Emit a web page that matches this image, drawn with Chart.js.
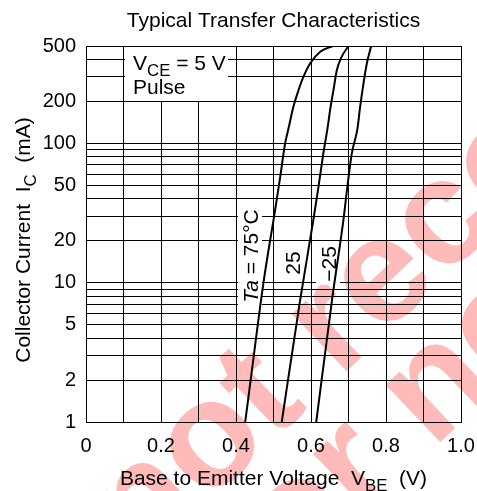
<!DOCTYPE html>
<html>
<head>
<meta charset="utf-8">
<script src="https://cdn.jsdelivr.net/npm/chart.js@4.4.1/dist/chart.umd.min.js"></script>
<style>
  html, body { margin: 0; padding: 0; background: #fff; }
  #wrap { width: 477px; height: 491px; }
</style>
</head>
<body>
<div id="wrap"><canvas id="myChart" width="477" height="491"></canvas></div>
<script>
// curve data (VBE in V, IC in mA)
var vbe75 = [0.4245, 0.438, 0.473, 0.505, 0.518, 0.531, 0.540, 0.553, 0.567, 0.580, 0.598, 0.6245, 0.658];
var ic75  = [1, 1.9, 9.9, 34.2, 57.7, 100, 128, 183, 242, 301, 376, 455, 500];

var vbe25 = [0.522, 0.571, 0.607, 0.620, 0.633, 0.644, 0.651, 0.660, 0.669, 0.682, 0.700];
var ic25  = [1, 7.5, 29, 48.9, 85, 128, 174, 242, 336, 419, 500];

var vbeM25 = [0.614, 0.656, 0.687, 0.697, 0.709, 0.724, 0.731, 0.740, 0.749, 0.7605];
var icM25  = [1, 7.5, 29, 48.9, 85, 128, 183, 270, 376, 500];

var xTickLabels = [0, 0.2, 0.4, 0.6, 0.8, 1.0];
var yGrid = [1, 2, 3, 4, 5, 6, 7, 8, 9, 10, 20, 30, 40, 50, 60, 70, 80, 90, 100, 200, 300, 400, 500];
var yTickLabels = [1, 2, 5, 10, 20, 50, 100, 200, 500];

var FONT = "'Liberation Sans', Arial, sans-serif";
Chart.defaults.font.family = FONT;
Chart.defaults.color = '#000';

function pts(xs, ys) {
  return xs.map(function(x, i) { return { x: x, y: ys[i] }; });
}

// draw a run of text pieces, some of them subscripts
function runWidth(ctx, parts, size) {
  var w = 0;
  parts.forEach(function(p) {
    ctx.font = (p.style || '') + ' ' + (p.sub ? size * 0.8 : size) + 'px ' + FONT;
    w += ctx.measureText(p.t).width;
  });
  return w;
}
function drawRun(ctx, parts, x, y, size) {
  parts.forEach(function(p) {
    ctx.font = (p.style || '') + ' ' + (p.sub ? size * 0.8 : size) + 'px ' + FONT;
    ctx.fillText(p.t, x, p.sub ? y + size * 0.3 : y);
    x += ctx.measureText(p.t).width;
  });
}

var watermark = {
  id: 'watermark',
  beforeDraw: function(chart) {
    var ctx = chart.ctx;
    ctx.save();
    ctx.fillStyle = 'rgba(255,0,0,0.27)';
    ctx.font = 'bold 150px ' + FONT;
    ctx.textBaseline = 'alphabetic';
    ctx.textAlign = 'left';
    ctx.translate(140, 568);
    ctx.rotate(-43.6 * Math.PI / 180);
    ctx.fillText('not recommended', 0, 0);
    ctx.fillText('for new design', 52, 116);
    ctx.restore();
  }
};

// label boxes sit over the grid but under the curves
var labels = {
  id: 'labels',
  beforeDatasetsDraw: function(chart) {
    var ctx = chart.ctx;
    var area = chart.chartArea;
    ctx.save();
    ctx.fillStyle = '#000';
    ctx.textBaseline = 'alphabetic';
    ctx.textAlign = 'left';

    // title
    var t = [{ t: 'Typical Transfer Characteristics' }];
    var tw = runWidth(ctx, t, 21);
    drawRun(ctx, t, (area.left + area.right) / 2 - tw / 2, 27, 21);

    // VCE box
    ctx.fillStyle = '#fff';
    ctx.fillRect(125, area.top + 1, 103, 54);
    ctx.fillStyle = '#000';
    drawRun(ctx, [{ t: 'V' }, { t: 'CE', sub: true }, { t: ' = 5 V' }], 133, 70, 21);
    drawRun(ctx, [{ t: 'Pulse' }], 133, 94, 21);

    // curve labels, rotated
    var rot = [
      { parts: [{ t: 'Ta', style: 'italic' }, { t: ' = 75°C' }], x: 250, y: 256 },
      { parts: [{ t: '25' }], x: 292, y: 263 },
      { parts: [{ t: '\u221225' }], x: 328, y: 264 }
    ];
    rot.forEach(function(r) {
      ctx.save();
      ctx.translate(r.x, r.y);
      ctx.rotate(-Math.PI / 2);
      var w = runWidth(ctx, r.parts, 21);
      ctx.fillStyle = '#fff';
      ctx.fillRect(-w / 2 - 3, -12, w + 6, 24);
      ctx.fillStyle = '#000';
      drawRun(ctx, r.parts, -w / 2, 8, 21);
      ctx.restore();
    });

    // x axis title
    var xt = [{ t: 'Base to Emitter Voltage  V' }, { t: 'BE', sub: true }, { t: '  (V)' }];
    var xw = runWidth(ctx, xt, 21);
    drawRun(ctx, xt, (area.left + area.right) / 2 - xw / 2, 485, 21);

    // y axis title
    ctx.save();
    ctx.translate(30, 240);
    ctx.rotate(-Math.PI / 2);
    var yt = [{ t: 'Collector Current  I' }, { t: 'C', sub: true }, { t: '  (mA)' }];
    var yw = runWidth(ctx, yt, 21);
    drawRun(ctx, yt, -yw / 2, 0, 21);
    ctx.restore();

    ctx.restore();
  }
};

var lineStyle = {
  borderColor: '#000',
  borderWidth: 2,
  pointRadius: 0,
  fill: false,
  cubicInterpolationMode: 'monotone'
};

var chartdata = {
  datasets: [
    Object.assign({ label: 'Ta = 75°C', data: pts(vbe75, ic75) }, lineStyle),
    Object.assign({ label: '25', data: pts(vbe25, ic25) }, lineStyle),
    Object.assign({ label: '-25', data: pts(vbeM25, icM25) }, lineStyle)
  ]
};

var options = {
  responsive: false,
  animation: false,
  layout: { padding: { left: 0, right: 16, top: 46, bottom: 0 } },
  plugins: {
    legend: { display: false },
    title: { display: false },
    tooltip: { enabled: false }
  },
  scales: {
    x: {
      type: 'linear',
      min: 0,
      max: 1,
      afterFit: function(scale) {
        scale.height = 69;
        scale.paddingLeft = 0;
        scale.paddingRight = 0;
      },
      ticks: {
        stepSize: 0.1,
        padding: 12,
        maxRotation: 0,
        autoSkip: false,
        font: { size: 20 },
        callback: function(v) {
          var r = Math.round(v * 10) / 10;
          if (xTickLabels.indexOf(r) < 0) return '';
          if (r === 0) return '0';
          return r.toFixed(1);
        }
      },
      grid: { color: '#000', lineWidth: 1, drawTicks: false },
      border: { color: '#000', width: 1 }
    },
    y: {
      type: 'logarithmic',
      min: 1,
      max: 500,
      afterFit: function(scale) {
        scale.width = 86;
        scale.paddingTop = 0;
        scale.paddingBottom = 0;
      },
      afterBuildTicks: function(scale) {
        scale.ticks = yGrid.map(function(v) { return { value: v }; });
      },
      ticks: {
        padding: 10,
        autoSkip: false,
        font: { size: 20 },
        callback: function(v) {
          return yTickLabels.indexOf(v) >= 0 ? String(v) : '';
        }
      },
      grid: { color: '#000', lineWidth: 1, drawTicks: false },
      border: { color: '#000', width: 1 }
    }
  }
};

var ctx = document.getElementById('myChart');
var chart = new Chart(ctx, {
  type: 'line',
  data: chartdata,
  options: options,
  plugins: [watermark, labels]
});
</script>
</body>
</html>
